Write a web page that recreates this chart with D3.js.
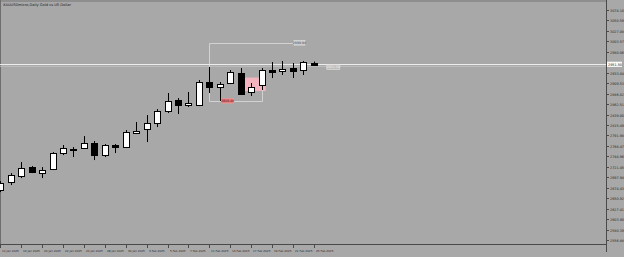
<!DOCTYPE html>
<html><head><meta charset="utf-8">
<script src="https://cdn.jsdelivr.net/npm/d3@7"></script>
<style>html,body{margin:0;padding:0;background:#a8a8a8;overflow:hidden}svg{display:block}</style>
</head><body>
<script>
const dates = ["14 Jan 2025","15 Jan 2025","16 Jan 2025","17 Jan 2025","20 Jan 2025","21 Jan 2025","22 Jan 2025","23 Jan 2025","24 Jan 2025","27 Jan 2025","28 Jan 2025","29 Jan 2025","30 Jan 2025","31 Jan 2025","3 Feb 2025","4 Feb 2025","5 Feb 2025","6 Feb 2025","7 Feb 2025","10 Feb 2025","11 Feb 2025","12 Feb 2025","13 Feb 2025","14 Feb 2025","17 Feb 2025","18 Feb 2025","19 Feb 2025","20 Feb 2025","21 Feb 2025","24 Feb 2025","25 Feb 2025"];
const open  = [2669.10,2687.10,2700.60,2720.90,2709.60,2716.40,2752.40,2762.50,2763.60,2774.90,2747.90,2770.40,2765.90,2798.50,2806.40,2819.90,2846.90,2871.60,2860.40,2860.40,2912.10,2900.90,2909.90,2932.40,2889.60,2905.40,2939.10,2936.90,2943.60,2939.10,2956.00];
const high  = [2689.40,2707.40,2732.10,2723.10,2720.90,2754.60,2770.40,2765.90,2790.60,2779.40,2772.60,2772.60,2804.10,2822.10,2837.90,2851.40,2887.40,2876.10,2889.60,2916.60,2945.90,2912.10,2939.10,2943.60,2909.90,2943.60,2957.10,2959.40,2954.90,2959.40,2958.30];
const low   = [2664.60,2680.40,2696.10,2707.40,2696.10,2714.10,2747.90,2743.40,2761.40,2736.60,2743.40,2752.40,2763.60,2795.10,2777.10,2810.90,2842.40,2840.10,2855.90,2858.10,2887.40,2869.40,2907.60,2882.90,2880.60,2894.10,2921.10,2927.90,2921.10,2927.90,2950.40];
const close = [2684.90,2702.90,2718.60,2709.60,2715.30,2752.40,2763.60,2760.30,2774.90,2747.90,2770.40,2765.90,2799.60,2803.00,2819.90,2846.90,2869.40,2860.40,2864.90,2912.10,2900.90,2907.60,2934.60,2885.10,2900.90,2939.10,2934.60,2941.40,2936.90,2957.10,2951.50];
const priceTicks = [3074.10,3050.59,3027.08,3003.57,2980.06,2956.55,2933.04,2909.53,2886.02,2862.51,2839.00,2815.49,2791.98,2768.47,2744.96,2721.45,2697.94,2674.43,2650.92,2627.41,2603.90,2580.39,2556.88];
const dateTickIdx = [0,2,4,6,8,10,12,14,16,18,20,22,24,26,28,30];
const title = "XAUUSDmicro,Daily  Gold vs US Dollar";
// drawn objects (prices / bar indices)
const rangeTop = 2999.90, rangeBottom = 2869.40, rangeStart = 20, rangeEnd = 25, rangeTopEnd = 28.1;
const zoneTop = 2922.20, zoneBottom = 2891.90, zoneStart = 23.3, zoneEnd = 25.4;
const lastPrice = 2951.50;

const W = 624, H = 257;
const plotR = 606, plotB = 244;
const svg = d3.select("body").append("svg").attr("width", W).attr("height", H);
const x = d3.scaleLinear().domain([0, 30]).range([0.3, 313.8]);
const y = d3.scaleLinear().domain([priceTicks[0], priceTicks[priceTicks.length-1]]).range([10, 240]);

svg.append("rect").attr("width", W).attr("height", H).attr("fill", "#a8a8a8");
svg.append("rect").attr("x",0).attr("y",0).attr("width",plotR).attr("height",2).attr("fill","#8e8e8e");
svg.append("line").attr("x1",0.5).attr("x2",0.5).attr("y1",0).attr("y2",plotB).attr("stroke","#6e6e6e");

// title
svg.append("text").attr("x",3).attr("y",6).text(title)
  .attr("font-family","DejaVu Sans").attr("font-size",3.6).attr("fill","#222");

// pink zone
svg.append("rect").attr("x", x(zoneStart)).attr("y", y(zoneTop))
  .attr("width", x(zoneEnd)-x(zoneStart)).attr("height", y(zoneBottom)-y(zoneTop))
  .attr("fill", "#f3b4bf");

// range tool lines
const lc = "#d2d2d2";
const g = svg.append("g").attr("stroke", lc).attr("stroke-width", 1).attr("fill","none");
const rx0 = Math.round(x(rangeStart))+0.5, rx1 = Math.round(x(rangeEnd))+0.5, rxt = x(rangeTopEnd);
const ry0 = Math.round(y(rangeTop))+0.5, ry1 = Math.round(y(rangeBottom))+0.5;
g.append("line").attr("x1",rx0).attr("x2",rxt).attr("y1",ry0).attr("y2",ry0);
g.append("line").attr("x1",rx0).attr("x2",rx0).attr("y1",ry0).attr("y2",ry1);
g.append("line").attr("x1",rx0).attr("x2",rx1).attr("y1",ry1).attr("y2",ry1);
g.append("line").attr("x1",rx1).attr("x2",rx1).attr("y1",y(2905)).attr("y2",ry1);
// connector from bar 21 low
g.append("line").attr("x1",Math.round(x(21))+0.5).attr("x2",Math.round(x(21))+0.5).attr("y1",y(low[21])).attr("y2",ry1);

// last price lines
svg.append("line").attr("x1",0).attr("x2",plotR).attr("y1",y(lastPrice)).attr("y2",y(lastPrice))
  .attr("stroke","#ececec").attr("stroke-width",1.2);
svg.append("line").attr("x1",0).attr("x2",plotR).attr("y1",y(lastPrice)+1.8).attr("y2",y(lastPrice)+1.8)
  .attr("stroke","#c4c4c4").attr("stroke-width",0.8);

// candles
const cg = svg.append("g");
d3.range(open.length).forEach(i => {
  const cx = Math.round(x(i)) + 0.5;
  const bull = close[i] >= open[i];
  cg.append("line").attr("x1",cx).attr("x2",cx).attr("y1",y(high[i])).attr("y2",y(low[i]))
    .attr("stroke","#000").attr("stroke-width",1);
  const top = y(Math.max(open[i],close[i])), bot = y(Math.min(open[i],close[i]));
  cg.append("rect").attr("x", cx-3).attr("y", Math.round(top)+0.5)
    .attr("width", 6).attr("height", Math.max(1, Math.round(bot-top)))
    .attr("fill", bull ? "#fff" : "#000").attr("stroke","#000").attr("stroke-width",1);
});

// labels on objects
function tag(px, py, w, h, fill, stroke, txt, tc){
  svg.append("rect").attr("x",px).attr("y",py).attr("width",w).attr("height",h)
    .attr("fill",fill).attr("stroke",stroke).attr("stroke-width",0.6);
  svg.append("text").attr("x",px+w/2).attr("y",py+h-1.2).attr("text-anchor","middle").text(txt)
    .attr("font-family","DejaVu Sans").attr("font-size",3.2).attr("fill",tc);
}
tag(rxt, y(rangeTop)-2.5, 11, 4.6, "#c9c9c9", "#e2e2e2", rangeTop.toFixed(2), "#555");
tag(x(21)+1.5, y(rangeBottom)-2.5, 12.5, 4.6, "#e27a7a", "#f09a9a", rangeBottom.toFixed(2), "#6a1010");
tag(x(30)+13, y(lastPrice)+0.3, 13, 4.6, "#bebebe", "#e4e4e4", lastPrice.toFixed(2), "#eee");

// right axis
svg.append("line").attr("x1",plotR+0.5).attr("x2",plotR+0.5).attr("y1",0).attr("y2",252).attr("stroke","#4a4a4a");
const ax = svg.append("g");
priceTicks.forEach(v => {
  const py = Math.round(y(v))+0.5;
  ax.append("line").attr("x1",plotR).attr("x2",plotR+3).attr("y1",py).attr("y2",py).attr("stroke","#4a4a4a");
  if (Math.abs(py - y(lastPrice)) < 5) return; // hidden behind the current price label
  ax.append("text").attr("x",plotR+4).attr("y",py+1.2).text(v.toFixed(2))
    .attr("font-family","DejaVu Sans").attr("font-size",3.4).attr("fill","#2a2a2a");
});
// current price label
svg.append("rect").attr("x",plotR+1).attr("y",y(lastPrice)-2.8).attr("width",15).attr("height",5.2).attr("fill","#fafafa");
svg.append("text").attr("x",plotR+2).attr("y",y(lastPrice)+1.3).text(lastPrice.toFixed(2))
  .attr("font-family","DejaVu Sans").attr("font-size",3.4).attr("fill","#222");

// bottom axis
svg.append("line").attr("x1",0).attr("x2",plotR+1).attr("y1",plotB+0.5).attr("y2",plotB+0.5).attr("stroke","#4a4a4a");
dateTickIdx.forEach(i => {
  const px = Math.round(x(i)) + 0.5;
  svg.append("line").attr("x1",px).attr("x2",px).attr("y1",plotB).attr("y2",plotB+4).attr("stroke","#4a4a4a");
  svg.append("text").attr("x",px+1.5).attr("y",plotB+7.5).text(dates[i])
    .attr("font-family","DejaVu Sans").attr("font-size",2.8).attr("fill","#2a2a2a");
});
</script>
</body></html>
